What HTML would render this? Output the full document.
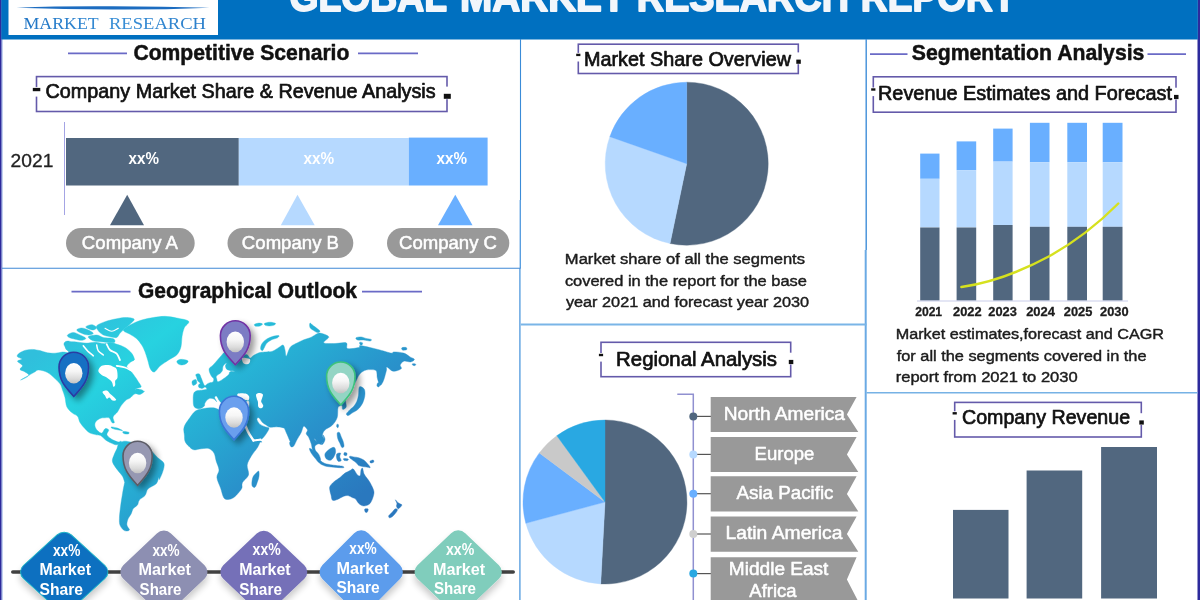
<!DOCTYPE html>
<html lang="en"><head><meta charset="utf-8"><title>Global Market Research Report</title>
<style>html,body{margin:0;padding:0;background:#fff;overflow:hidden}svg{display:block}text{white-space:pre}</style></head><body>
<svg width="1200" height="600" viewBox="0 0 1200 600" role="img" aria-label="Global Market Research Report infographic">
<defs>
<linearGradient id="mapg" gradientUnits="userSpaceOnUse" x1="186" y1="237" x2="378" y2="482">
<stop offset="0" stop-color="#30bfdc"/><stop offset="0.2" stop-color="#27d2e0"/><stop offset="0.38" stop-color="#26bcd9"/><stop offset="0.55" stop-color="#27a9d2"/><stop offset="0.73" stop-color="#2992cb"/><stop offset="1" stop-color="#2a78be"/></linearGradient>
<linearGradient id="logog" gradientUnits="userSpaceOnUse" x1="24" y1="0" x2="205" y2="0"><stop offset="0" stop-color="#1f74c4"/><stop offset="0.5" stop-color="#3a8fd6"/><stop offset="1" stop-color="#2b7fcb"/></linearGradient>
<linearGradient id="ball" x1="0" y1="0" x2="0" y2="1"><stop offset="0" stop-color="#ffffff"/><stop offset="0.4" stop-color="#f6f6f6"/><stop offset="0.75" stop-color="#dcdcdc"/><stop offset="1" stop-color="#c2c2c2"/></linearGradient>
<filter id="sh" x="-30%" y="-30%" width="180%" height="180%"><feGaussianBlur in="SourceAlpha" stdDeviation="3.2"/><feOffset dx="4" dy="4"/><feComponentTransfer><feFuncA type="linear" slope="0.4"/></feComponentTransfer><feMerge><feMergeNode/><feMergeNode in="SourceGraphic"/></feMerge></filter>
<filter id="dsh" x="-30%" y="-30%" width="160%" height="180%"><feGaussianBlur in="SourceAlpha" stdDeviation="3.5"/><feOffset dx="0" dy="5"/><feComponentTransfer><feFuncA type="linear" slope="0.22"/></feComponentTransfer><feMerge><feMergeNode/><feMergeNode in="SourceGraphic"/></feMerge></filter>
</defs>
<rect width="1200" height="600" fill="#fff"/>
<rect x="0" y="0" width="1.7" height="600" fill="#2d2a9c"/>
<rect x="1.7" y="39" width="1" height="561" fill="#a9bfea"/>
<rect x="1197.5" y="0" width="2.5" height="600" fill="#2d2a9c"/>
<rect x="1.3" y="0" width="1196.5" height="39.5" fill="#0070c0"/>
<rect x="8.5" y="0" width="209.5" height="35" fill="#fff"/>
<path d="M16.5,7.7 Q60,6.0 112,6.3 T209.5,7.7 Q160,9.8 112,9.5 T16.5,7.7Z" fill="#1c6cc0"/>
<text x="23.48" y="29.2" font-family='"Liberation Serif", serif' font-size="17.4" font-weight="400" fill="url(#logog)" text-anchor="start" textLength="75.23" lengthAdjust="spacingAndGlyphs">MARKET</text>
<text x="108.98" y="29.2" font-family='"Liberation Serif", serif' font-size="17.4" font-weight="400" fill="url(#logog)" text-anchor="start" textLength="97.04" lengthAdjust="spacingAndGlyphs">RESEARCH</text>
<text x="289.59" y="10.7" font-family='"Liberation Sans", Arial, sans-serif' font-size="40.5" font-weight="700" fill="#f2f6fb" text-anchor="start" textLength="157.32" lengthAdjust="spacingAndGlyphs" stroke="#f2f6fb" stroke-width="1.8" stroke-linejoin="round">GLOBAL</text>
<text x="459.99" y="10.7" font-family='"Liberation Sans", Arial, sans-serif' font-size="40.5" font-weight="700" fill="#f2f6fb" text-anchor="start" textLength="165.56" lengthAdjust="spacingAndGlyphs" stroke="#f2f6fb" stroke-width="1.8" stroke-linejoin="round">MARKET</text>
<text x="636.87" y="10.7" font-family='"Liberation Sans", Arial, sans-serif' font-size="40.5" font-weight="700" fill="#f2f6fb" text-anchor="start" textLength="212.07" lengthAdjust="spacingAndGlyphs" stroke="#f2f6fb" stroke-width="1.8" stroke-linejoin="round">RESEARCH</text>
<text x="860.87" y="10.7" font-family='"Liberation Sans", Arial, sans-serif' font-size="40.5" font-weight="700" fill="#f2f6fb" text-anchor="start" textLength="154.71" lengthAdjust="spacingAndGlyphs" stroke="#f2f6fb" stroke-width="1.8" stroke-linejoin="round">REPORT</text>
<g fill="none">
<line x1="520.5" y1="39" x2="520.5" y2="200" stroke="#3a8bd8" stroke-width="1.1"/>
<line x1="520.3" y1="200" x2="520.3" y2="268.3" stroke="#5a9fe0" stroke-width="1.4"/>
<line x1="519.9" y1="268.3" x2="519.9" y2="600" stroke="#5a9fe0" stroke-width="1.4"/>
<line x1="866.2" y1="39" x2="866.2" y2="250" stroke="#3f8ed9" stroke-width="1.4"/>
<line x1="865.7" y1="250" x2="865.7" y2="600" stroke="#6aaae4" stroke-width="2"/>
<line x1="2" y1="268.3" x2="520.7" y2="268.3" stroke="#3f88d6" stroke-width="1.1"/>
<line x1="520.7" y1="324.5" x2="866.5" y2="324.5" stroke="#7ab5e7" stroke-width="1.8"/>
<line x1="866.5" y1="392.7" x2="1197.5" y2="392.7" stroke="#76b2e5" stroke-width="1.6"/>
</g>
<g stroke="#6a6ac6" stroke-width="1.7">
<line x1="68" y1="53.3" x2="127" y2="53.3"/><line x1="358" y1="53.3" x2="418" y2="53.3"/>
<line x1="71.5" y1="291.7" x2="130.5" y2="291.7"/><line x1="362" y1="291.7" x2="422" y2="291.7"/>
<line x1="870" y1="54.2" x2="907.5" y2="54.2"/><line x1="1147.5" y1="54.2" x2="1186" y2="54.2"/>
</g>
<text x="133.40" y="60.2" font-family='"Liberation Sans", Arial, sans-serif' font-size="22.4" font-weight="700" fill="#111" text-anchor="start" textLength="216.01" lengthAdjust="spacingAndGlyphs" stroke="#111" stroke-width="0.5" stroke-linejoin="round">Competitive Scenario</text>
<rect x="36.5" y="76.6" width="410.5" height="34.9" fill="none" stroke="#645aaa" stroke-width="1.6"/>
<rect x="34.5" y="87.1" width="4" height="9.5" fill="#fff"/>
<rect x="445.0" y="86.6" width="4" height="12.6" fill="#fff"/>
<rect x="32.8" y="87.9" width="7.5" height="3.3" fill="#111"/>
<rect x="443.8" y="93.8" width="7" height="5" fill="#111"/>
<text x="45.60" y="98.3" font-family='"Liberation Sans", Arial, sans-serif' font-size="20.4" font-weight="400" fill="#111" text-anchor="start" textLength="390.00" lengthAdjust="spacingAndGlyphs" stroke="#111" stroke-width="0.7" stroke-linejoin="round">Company Market Share &amp; Revenue Analysis</text>
<line x1="64.5" y1="122" x2="64.5" y2="215" stroke="#a4a4e4" stroke-width="1"/>
<rect x="66" y="138" width="172.8" height="47.5" fill="#51677f"/>
<rect x="238.8" y="138" width="170" height="47.5" fill="#b6d9ff"/>
<rect x="408.8" y="137.6" width="78.8" height="47.9" fill="#69afff"/>
<text x="10.59" y="167.3" font-family='"Liberation Sans", Arial, sans-serif' font-size="18.8" font-weight="400" fill="#222" text-anchor="start" textLength="42.73" lengthAdjust="spacingAndGlyphs" stroke="#222" stroke-width="0.3" stroke-linejoin="round">2021</text>
<text x="128.57" y="164.2" font-family='"Liberation Sans", Arial, sans-serif' font-size="16" font-weight="700" fill="#fff" text-anchor="start" textLength="30.35" lengthAdjust="spacingAndGlyphs">xx%</text>
<text x="303.48" y="164.2" font-family='"Liberation Sans", Arial, sans-serif' font-size="16" font-weight="700" fill="#fff" text-anchor="start" textLength="30.64" lengthAdjust="spacingAndGlyphs">xx%</text>
<text x="436.47" y="164.2" font-family='"Liberation Sans", Arial, sans-serif' font-size="16" font-weight="700" fill="#fff" text-anchor="start" textLength="30.45" lengthAdjust="spacingAndGlyphs">xx%</text>
<path d="M127.2,194.8 L144,225.2 L110,225.2 Z" fill="#51677f"/>
<path d="M297.5,194.8 L314.7,225.2 L280.8,225.2 Z" fill="#b6d9ff"/>
<path d="M455.3,194.8 L472.5,225.2 L438,225.2 Z" fill="#69afff"/>
<rect x="66" y="228" width="128.7" height="30" rx="15" fill="#999999"/>
<text x="81.89" y="248.7" font-family='"Liberation Sans", Arial, sans-serif' font-size="17.8" font-weight="400" fill="#fff" text-anchor="start" textLength="96.11" lengthAdjust="spacingAndGlyphs" stroke="#fff" stroke-width="0.5" stroke-linejoin="round">Company A</text>
<rect x="227.5" y="228" width="125.8" height="30" rx="15" fill="#999999"/>
<text x="241.89" y="248.7" font-family='"Liberation Sans", Arial, sans-serif' font-size="17.8" font-weight="400" fill="#fff" text-anchor="start" textLength="97.13" lengthAdjust="spacingAndGlyphs" stroke="#fff" stroke-width="0.5" stroke-linejoin="round">Company B</text>
<rect x="387" y="228" width="122.3" height="30" rx="15" fill="#999999"/>
<text x="398.98" y="248.7" font-family='"Liberation Sans", Arial, sans-serif' font-size="17.8" font-weight="400" fill="#fff" text-anchor="start" textLength="98.04" lengthAdjust="spacingAndGlyphs" stroke="#fff" stroke-width="0.5" stroke-linejoin="round">Company C</text>
<text x="137.99" y="298.0" font-family='"Liberation Sans", Arial, sans-serif' font-size="22.4" font-weight="700" fill="#111" text-anchor="start" textLength="218.91" lengthAdjust="spacingAndGlyphs" stroke="#111" stroke-width="0.5" stroke-linejoin="round">Geographical Outlook</text>
<g id="map">
<g fill="url(#mapg)" stroke="url(#mapg)" stroke-width="0.4" stroke-linejoin="round">
<path d="M20.6,380.0C19.8,380.5 28.0,377.0 28.8,375.6C29.5,374.3 26.5,372.9 25.0,371.9C23.5,370.8 20.4,370.4 20.0,369.4C19.6,368.3 22.9,367.0 22.5,365.6C22.1,364.3 17.6,362.3 17.5,361.2C17.4,360.2 21.9,359.9 21.9,359.1C21.8,358.3 17.7,357.5 17.2,356.5C16.8,355.5 18.0,354.2 19.4,353.1C20.8,352.1 23.4,350.9 25.6,350.2C27.8,349.6 30.1,349.3 32.5,349.4C34.9,349.4 37.5,350.1 40.0,350.6C42.5,351.2 45.0,352.3 47.5,352.8C50.0,353.2 52.5,353.4 55.0,353.2C57.5,353.1 60.2,352.2 62.5,352.0C64.8,351.8 68.5,353.4 68.8,352.2C69.0,351.1 64.8,347.0 64.2,345.3C63.5,343.6 64.2,342.7 65.0,342.0C65.8,341.3 67.6,340.9 69.2,341.2C70.7,341.4 72.4,343.0 74.2,343.7C76.0,344.4 78.3,345.3 80.0,345.3C81.7,345.4 82.5,344.5 84.2,344.1C85.8,343.7 88.2,343.2 90.0,342.8C91.8,342.5 93.3,342.1 95.0,342.2C96.7,342.2 98.5,342.8 100.0,343.0C101.5,343.2 102.6,343.7 104.2,343.7C105.7,343.6 107.4,342.8 109.2,342.8C111.0,342.8 113.2,343.0 115.0,343.7C116.8,344.4 118.2,345.8 120.0,347.0C121.8,348.2 124.2,349.8 125.8,351.2C127.5,352.6 128.6,353.9 130.0,355.3C131.4,356.7 134.2,358.3 134.2,359.5C134.2,360.7 131.2,361.3 130.0,362.5C128.8,363.7 126.7,365.4 126.7,366.7C126.7,367.9 128.6,368.3 130.0,370.0C131.4,371.7 133.6,374.7 135.0,376.7C136.4,378.6 137.3,380.0 138.3,381.7C139.4,383.3 141.2,385.6 141.2,386.7C141.2,387.7 139.4,387.5 138.3,387.9C137.3,388.3 134.9,389.0 135.0,389.2C135.1,389.4 137.8,388.9 139.2,389.2C140.6,389.4 142.9,390.1 143.3,390.8C143.7,391.5 142.6,393.0 141.7,393.3C140.7,393.7 137.0,393.3 137.5,392.9C138.0,392.6 144.0,391.0 144.4,391.2C144.8,391.5 141.6,394.0 140.0,394.4C138.4,394.8 136.7,393.1 135.0,393.8C133.3,394.4 131.5,397.1 130.0,398.1C128.5,399.2 127.7,398.8 126.2,400.0C124.8,401.2 122.7,403.6 121.2,405.6C119.8,407.6 118.9,410.0 117.5,411.9C116.1,413.8 113.6,415.1 113.1,416.9C112.6,418.6 114.6,421.6 114.4,422.5C114.2,423.4 112.7,423.2 111.9,422.5C111.0,421.8 110.5,418.9 109.4,418.1C108.2,417.3 106.6,417.7 105.0,417.8C103.4,417.8 101.6,417.8 100.0,418.5C98.4,419.2 96.5,420.6 95.6,421.9C94.8,423.2 94.7,424.8 95.0,426.2C95.3,427.7 96.4,429.5 97.5,430.6C98.6,431.8 100.6,433.4 101.9,433.1C103.1,432.8 103.9,429.3 105.0,428.8C106.1,428.2 108.4,429.1 108.8,430.0C109.1,430.9 106.7,433.0 106.9,434.4C107.1,435.7 108.8,437.1 110.0,438.1C111.2,439.2 113.0,440.0 114.4,440.6C115.7,441.2 117.0,441.8 118.1,441.9C119.3,442.0 120.9,440.9 121.2,441.2C121.6,441.6 120.9,443.2 120.0,443.8C119.1,444.3 117.1,444.9 115.6,444.8C114.2,444.6 112.9,443.9 111.2,443.1C109.6,442.3 107.4,441.2 105.6,440.0C103.9,438.8 102.2,436.5 100.6,435.6C99.1,434.8 98.0,435.2 96.2,434.8C94.5,434.3 91.9,434.1 90.0,433.1C88.1,432.1 86.7,430.5 85.0,428.8C83.3,427.0 81.2,424.6 80.0,422.5C78.8,420.4 78.8,417.8 77.5,416.2C76.2,414.7 74.3,414.7 72.5,413.1C70.7,411.6 68.1,409.5 66.9,406.9C65.6,404.3 65.7,400.3 65.0,397.5C64.3,394.7 63.3,392.3 62.5,390.0C61.7,387.7 61.5,385.8 60.0,383.8C58.5,381.7 55.8,379.4 53.8,377.5C51.7,375.6 50.0,373.8 47.5,372.5C45.0,371.2 41.0,370.0 38.8,370.0C36.5,370.0 36.8,370.8 33.8,372.5C30.7,374.2 21.5,379.5 20.6,380.0Z"/>
<path d="M96.7,325.8C97.8,324.3 101.7,322.9 105.0,321.7C108.3,320.5 113.1,319.4 116.7,318.7C120.3,318.0 123.8,317.4 126.7,317.5C129.6,317.6 133.6,318.1 134.2,319.2C134.7,320.3 131.5,322.6 130.0,324.2C128.5,325.7 126.7,326.8 125.0,328.3C123.3,329.9 121.4,331.8 120.0,333.3C118.6,334.9 118.3,336.9 116.7,337.5C115.0,338.1 112.2,337.1 110.0,336.7C107.8,336.2 105.3,336.0 103.3,335.0C101.4,334.0 99.4,332.4 98.3,330.8C97.2,329.3 95.6,327.4 96.7,325.8Z"/>
<path d="M67.5,335.0C68.2,334.2 71.3,332.5 73.3,332.5C75.4,332.5 77.9,334.0 80.0,335.0C82.1,336.0 85.6,337.4 85.8,338.3C86.1,339.2 83.5,340.2 81.7,340.3C79.9,340.5 77.1,339.6 75.0,339.2C72.9,338.7 70.4,338.2 69.2,337.5C67.9,336.8 66.8,335.8 67.5,335.0Z"/>
<path d="M76.7,330.0C76.7,329.1 79.7,328.0 81.7,328.0C83.6,328.0 86.4,329.1 88.3,330.0C90.3,330.9 93.3,332.5 93.3,333.3C93.3,334.2 90.3,335.0 88.3,335.0C86.4,335.0 83.6,334.2 81.7,333.3C79.7,332.5 76.7,330.9 76.7,330.0Z"/>
<path d="M85.8,326.7C86.4,326.0 89.9,324.5 91.7,324.7C93.5,324.8 96.4,326.6 96.7,327.5C96.9,328.4 94.7,329.8 93.3,330.0C91.9,330.2 89.6,329.2 88.3,328.7C87.1,328.1 85.3,327.3 85.8,326.7Z"/>
<path d="M88.3,336.7C88.9,335.7 94.2,334.9 96.7,335.0C99.2,335.1 100.6,336.9 103.3,337.5C106.1,338.1 111.5,337.8 113.3,338.7C115.1,339.5 115.8,341.9 114.2,342.5C112.5,343.1 106.8,342.3 103.3,342.0C99.9,341.7 95.8,341.7 93.3,340.8C90.8,339.9 87.8,337.6 88.3,336.7Z"/>
<path d="M65.8,344.2C66.7,342.8 69.3,341.9 71.7,341.7C74.0,341.4 77.2,342.2 80.0,342.5C82.8,342.8 85.6,343.1 88.3,343.3C91.1,343.6 94.2,343.9 96.7,344.2C99.2,344.4 101.1,345.1 103.3,345.0C105.6,344.9 107.8,343.5 110.0,343.3C112.2,343.2 114.2,343.5 116.7,344.2C119.2,344.9 122.5,346.0 125.0,347.5C127.5,349.0 130.1,351.2 131.7,353.3C133.2,355.4 135.0,358.9 134.2,360.0C133.3,361.1 129.6,360.6 126.7,360.0C123.8,359.4 120.6,357.5 116.7,356.7C112.8,355.8 107.8,355.5 103.3,355.0C98.9,354.5 94.4,353.9 90.0,353.7C85.6,353.4 80.6,353.9 76.7,353.3C72.8,352.7 68.5,351.5 66.7,350.0C64.9,348.5 65.0,345.6 65.8,344.2Z"/>
<path d="M123.3,330.3C123.3,328.8 126.9,326.7 130.0,325.0C133.1,323.3 137.8,321.2 141.7,320.0C145.6,318.8 149.4,318.1 153.3,317.5C157.2,316.9 161.1,316.2 165.0,316.3C168.9,316.4 172.7,317.2 176.7,318.0C180.6,318.8 187.4,319.7 188.7,321.3C189.9,323.0 185.3,325.4 184.2,328.0C183.1,330.6 182.5,333.6 182.0,336.7C181.5,339.8 181.8,343.7 181.0,346.7C180.2,349.7 179.1,352.4 177.0,354.7C174.9,356.9 171.4,358.1 168.7,360.0C165.9,361.9 162.7,363.8 160.3,365.8C157.9,367.8 156.0,371.5 154.3,372.0C152.7,372.5 151.4,370.7 150.3,368.7C149.2,366.7 148.6,362.8 147.7,360.0C146.8,357.2 146.0,354.2 145.0,351.7C144.0,349.2 143.1,347.2 141.7,345.0C140.3,342.8 138.6,340.4 136.7,338.7C134.7,336.9 132.2,335.7 130.0,334.3C127.8,332.9 123.3,331.9 123.3,330.3Z"/>
<path d="M176.9,361.2C177.2,360.5 178.6,359.6 180.0,359.4C181.4,359.1 183.6,359.4 185.0,359.8C186.4,360.1 188.0,360.5 188.1,361.2C188.2,362.0 186.8,363.4 185.6,364.0C184.5,364.6 182.5,365.0 181.2,365.0C180.0,365.0 178.9,364.4 178.1,363.8C177.4,363.1 176.6,362.0 176.9,361.2Z"/>
<path d="M111.2,426.9C112.1,426.8 115.6,427.5 117.5,428.1C119.4,428.8 122.5,430.4 122.5,430.6C122.5,430.9 119.2,430.1 117.5,429.8C115.8,429.4 113.5,429.0 112.5,428.5C111.5,428.0 110.4,426.9 111.2,426.9Z"/>
<path d="M123.1,431.5C124.0,431.3 127.9,431.8 128.8,432.2C129.6,432.7 129.0,433.8 128.1,434.0C127.3,434.2 124.6,433.9 123.8,433.5C122.9,433.1 122.3,431.7 123.1,431.5Z"/>
<path d="M118.8,443.8C119.9,442.5 121.9,441.6 123.8,441.2C125.6,440.9 128.1,441.6 130.0,441.9C131.9,442.2 133.1,442.6 135.0,443.1C136.9,443.6 139.2,444.4 141.2,445.0C143.3,445.6 145.6,445.7 147.5,446.9C149.4,448.0 150.8,450.1 152.5,451.9C154.2,453.6 155.6,455.6 157.5,457.5C159.4,459.4 162.8,460.9 163.8,463.1C164.7,465.3 163.9,467.9 163.1,470.6C162.4,473.3 160.1,478.2 159.4,479.4C158.6,480.5 159.3,476.8 158.8,477.5C158.2,478.2 158.0,481.9 156.2,483.8C154.5,485.6 150.0,486.8 148.1,488.8C146.2,490.7 146.5,493.8 145.0,495.6C143.5,497.5 140.6,498.4 139.4,500.0C138.1,501.6 138.5,503.5 137.5,505.0C136.5,506.5 134.2,507.3 133.1,508.8C132.1,510.2 132.1,512.1 131.2,513.8C130.4,515.4 128.9,516.9 128.1,518.8C127.4,520.6 126.7,523.1 126.9,525.0C127.1,526.9 129.8,529.1 129.4,530.0C129.0,530.9 125.9,531.4 124.4,530.6C122.9,529.9 121.1,527.6 120.2,525.6C119.4,523.6 119.3,522.0 119.4,518.8C119.4,515.5 120.1,510.4 120.6,506.2C121.1,502.1 121.9,497.5 122.5,493.8C123.1,490.0 124.0,485.4 124.4,483.8C124.8,482.1 125.3,485.0 125.0,483.8C124.7,482.5 123.8,478.5 122.5,476.2C121.2,474.0 119.2,472.4 117.5,470.0C115.8,467.6 113.1,464.3 112.5,461.9C111.9,459.5 113.0,457.8 113.8,455.6C114.5,453.4 116.0,450.7 116.9,448.8C117.7,446.8 117.6,445.0 118.8,443.8Z"/>
<path d="M197.5,410.0C199.2,409.3 201.7,408.9 203.8,408.5C205.8,408.1 208.1,407.8 210.0,407.8C211.9,407.7 213.4,407.6 215.0,408.1C216.6,408.6 218.8,409.6 219.8,410.6C220.7,411.7 219.3,413.4 220.6,414.4C221.9,415.3 225.1,415.7 227.5,416.2C229.9,416.8 232.7,417.6 235.0,417.8C237.3,417.9 239.2,416.8 241.2,416.9C243.3,416.9 246.1,417.2 247.5,418.1C248.9,419.1 248.6,420.7 249.4,422.5C250.1,424.3 250.9,426.7 251.9,428.8C252.8,430.8 254.2,433.1 255.0,435.0C255.8,436.9 255.9,439.0 256.9,440.0C257.8,441.0 259.8,440.6 260.6,441.0C261.5,441.4 262.0,442.0 261.9,442.2C261.8,442.5 260.7,441.6 260.0,442.5C259.3,443.4 259.0,445.2 257.5,447.5C256.0,449.8 253.0,453.3 251.2,456.2C249.5,459.2 247.7,461.9 247.2,465.0C246.8,468.1 249.3,472.1 248.5,475.0C247.7,477.9 243.6,480.3 242.5,482.5C241.4,484.7 242.5,486.5 241.9,488.1C241.2,489.8 240.1,490.9 238.8,492.5C237.4,494.1 235.5,496.3 233.8,497.5C232.0,498.7 229.8,499.5 228.1,499.5C226.5,499.5 225.0,499.6 223.8,497.8C222.5,495.9 221.8,491.5 220.6,488.1C219.5,484.8 217.1,480.5 216.9,477.5C216.6,474.5 219.1,472.7 219.0,470.0C218.9,467.3 217.1,464.1 216.2,461.2C215.4,458.4 215.2,455.2 214.0,453.1C212.8,451.0 210.9,449.2 208.8,448.5C206.6,447.8 203.8,448.5 201.2,448.8C198.8,449.0 195.8,450.2 193.8,449.8C191.7,449.3 190.2,447.7 188.8,446.2C187.3,444.8 185.7,443.1 185.0,441.2C184.3,439.4 184.6,437.1 184.4,435.0C184.2,432.9 183.5,430.6 183.8,428.8C184.0,426.9 184.6,425.6 185.6,423.8C186.7,421.9 188.6,419.4 190.0,417.5C191.4,415.6 192.5,413.8 193.8,412.5C195.0,411.2 195.8,410.7 197.5,410.0Z"/>
<path d="M258.8,471.2C258.3,470.7 257.2,472.1 256.2,473.1C255.2,474.2 253.5,475.4 252.8,477.5C252.0,479.6 251.6,484.0 252.0,485.6C252.4,487.2 254.1,487.8 255.0,487.2C255.9,486.7 256.6,484.3 257.2,482.5C257.9,480.7 258.8,478.1 259.0,476.2C259.2,474.4 259.2,471.8 258.8,471.2Z"/>
<path d="M199.2,408.8C197.5,408.8 195.2,408.3 194.2,406.8C193.2,405.4 193.2,402.2 193.2,400.0C193.1,397.8 193.2,394.9 193.8,393.3C194.3,391.8 195.3,391.4 196.7,390.8C198.0,390.3 200.0,390.4 201.7,390.2C203.3,389.9 206.1,389.7 206.7,389.2C207.2,388.7 205.8,387.2 205.0,387.1C204.2,387.0 202.8,388.6 201.8,388.5C200.9,388.4 199.3,387.2 199.3,386.7C199.3,386.2 200.9,385.6 201.8,385.4C202.8,385.3 204.1,386.1 205.0,385.8C205.9,385.6 206.7,384.3 207.5,383.8C208.3,383.2 209.1,382.9 210.0,382.7C210.9,382.4 212.3,382.7 212.9,382.1C213.5,381.5 213.7,380.1 213.8,379.2C213.8,378.3 213.1,377.2 213.3,376.7C213.6,376.1 214.9,375.5 215.4,375.8C216.0,376.2 216.3,377.8 216.7,378.8C217.0,379.7 216.9,381.1 217.5,381.5C218.1,381.9 218.8,381.6 220.0,381.0C221.2,380.4 223.5,378.7 225.0,377.7C226.5,376.6 227.9,375.6 228.8,374.6C229.6,373.6 229.0,372.4 230.0,371.8C231.0,371.3 235.0,371.5 235.0,371.2C235.0,371.0 231.4,370.8 230.0,370.4C228.6,370.1 227.4,369.9 226.7,369.2C225.9,368.4 225.4,366.8 225.4,365.8C225.4,364.9 226.8,363.6 226.7,363.3C226.5,363.1 225.2,363.6 224.6,364.2C224.0,364.7 223.3,365.6 222.9,366.7C222.5,367.8 222.8,369.7 222.3,370.8C221.8,372.0 220.8,372.8 220.0,373.5C219.2,374.2 218.4,374.2 217.5,375.0C216.6,375.8 215.5,377.8 214.6,378.2C213.7,378.5 212.8,377.8 212.1,377.1C211.3,376.3 210.7,375.1 210.2,373.8C209.7,372.4 208.7,370.2 209.2,368.8C209.6,367.3 211.5,366.6 212.9,365.2C214.3,363.7 216.0,361.7 217.5,360.0C219.0,358.3 220.4,356.5 221.7,355.2C222.9,353.8 223.6,352.5 225.0,351.8C226.4,351.2 228.1,351.2 230.0,351.2C231.9,351.3 234.2,351.4 236.2,351.9C238.3,352.3 240.6,353.5 242.5,354.0C244.4,354.5 246.2,354.3 247.5,355.0C248.8,355.7 249.2,357.9 250.0,358.1C250.8,358.3 251.5,356.9 252.5,356.2C253.5,355.6 255.0,354.6 256.2,354.0C257.5,353.4 258.3,352.9 260.0,352.5C261.7,352.1 264.2,352.1 266.2,351.9C268.3,351.7 270.4,352.0 272.5,351.2C274.6,350.5 277.0,348.5 278.8,347.5C280.5,346.5 282.1,344.6 283.1,345.0C284.2,345.4 284.5,348.1 285.0,350.0C285.5,351.9 285.6,356.2 286.2,356.2C286.9,356.2 287.9,351.7 288.8,350.0C289.6,348.3 289.8,347.5 291.2,346.2C292.7,345.0 295.4,343.8 297.5,342.8C299.6,341.7 301.7,340.6 303.8,339.8C305.8,338.9 308.1,338.5 310.0,337.8C311.9,337.0 313.3,335.8 315.0,335.0C316.7,334.2 317.7,332.8 320.0,333.1C322.3,333.4 328.1,335.3 328.8,336.9C329.4,338.5 322.7,341.6 323.8,342.8C324.8,343.9 331.2,343.5 335.0,343.5C338.8,343.5 344.2,341.9 346.2,342.8C348.3,343.6 345.4,347.7 347.5,348.5C349.6,349.3 356.6,348.0 358.8,347.5C360.9,347.0 358.4,345.6 360.2,345.6C362.1,345.6 366.7,346.8 370.0,347.5C373.3,348.2 376.5,349.1 380.0,350.0C383.5,350.9 388.9,352.8 391.2,353.1C393.6,353.4 391.9,351.9 394.0,351.9C396.1,351.9 401.1,352.3 403.8,353.1C406.4,354.0 408.2,355.8 410.0,356.9C411.8,357.9 414.3,358.5 414.4,359.4C414.5,360.2 412.4,361.6 410.6,361.9C408.9,362.2 405.5,360.7 403.8,361.2C402.0,361.8 400.7,363.8 400.2,365.0C399.8,366.2 402.4,367.7 401.2,368.8C400.1,369.8 395.5,371.6 393.1,371.2C390.7,370.9 388.0,367.1 386.9,366.9C385.8,366.7 386.8,368.6 386.5,370.0C386.2,371.4 385.8,373.2 385.2,375.0C384.8,376.8 384.2,378.9 383.5,380.6C382.8,382.3 381.5,384.9 380.8,385.2C380.0,385.6 379.3,384.0 378.8,382.8C378.2,381.5 377.6,379.2 377.2,377.5C376.9,375.8 377.1,373.8 376.8,372.5C376.4,371.2 376.8,370.4 375.0,370.0C373.2,369.6 368.8,369.4 366.2,370.0C363.8,370.6 361.6,372.1 360.0,373.8C358.4,375.4 357.5,378.1 356.5,380.0C355.5,381.9 354.6,384.2 353.8,385.0C352.9,385.8 352.3,383.8 351.2,385.0C350.2,386.2 348.4,390.0 347.5,392.5C346.6,395.0 345.8,397.6 345.6,400.0C345.4,402.4 346.7,405.3 346.2,406.9C345.8,408.4 343.5,409.6 342.8,409.4C342.0,409.2 342.6,405.9 341.9,405.6C341.1,405.3 338.9,405.5 338.1,407.5C337.4,409.5 338.2,414.6 337.2,417.5C336.3,420.4 334.5,422.9 332.5,425.0C330.5,427.1 326.7,428.3 325.0,430.0C323.3,431.7 322.7,433.3 322.5,435.0C322.3,436.7 324.3,438.5 324.0,440.0C323.7,441.5 321.7,443.3 320.6,443.8C319.5,444.2 318.5,443.3 317.5,442.5C316.5,441.7 315.4,439.0 314.4,438.8C313.3,438.5 311.7,441.9 311.2,441.2C310.8,440.6 311.2,435.2 311.9,435.0C312.5,434.8 313.5,438.5 315.0,440.0C316.5,441.5 319.2,443.8 320.6,443.8C322.1,443.8 323.3,441.5 323.8,440.0C324.2,438.5 322.9,435.1 323.1,435.0C323.3,434.9 325.1,437.8 325.0,439.4C324.9,440.9 323.5,443.6 322.5,444.4C321.5,445.1 320.0,443.4 318.8,443.8C317.5,444.1 315.5,445.1 315.0,446.2C314.5,447.4 315.0,449.3 315.6,450.6C316.2,452.0 317.9,452.9 318.8,454.4C319.6,455.8 320.6,458.4 320.6,459.4C320.6,460.3 319.7,460.7 318.8,460.0C317.8,459.3 316.0,456.7 315.0,455.0C314.0,453.3 313.1,451.9 312.5,450.0C311.9,448.1 311.9,445.8 311.2,443.8C310.6,441.7 309.6,439.2 308.8,437.5C307.9,435.8 306.5,435.0 306.2,433.8C306.0,432.5 307.9,431.2 307.5,430.0C307.1,428.8 304.8,425.8 303.8,426.2C302.7,426.7 302.3,430.4 301.2,432.5C300.2,434.6 298.9,436.4 297.5,438.8C296.1,441.1 294.4,446.1 293.1,446.5C291.9,446.9 291.1,443.6 290.0,441.2C288.9,438.9 287.3,434.7 286.2,432.5C285.2,430.3 285.2,429.1 283.8,428.1C282.3,427.2 279.8,427.0 277.5,426.9C275.2,426.7 271.9,427.6 270.0,427.2C268.1,426.9 267.5,425.8 266.2,425.0C265.0,424.2 263.8,423.7 262.5,422.5C261.2,421.3 259.7,418.3 258.8,417.8C257.8,417.2 256.7,418.3 256.9,419.4C257.1,420.5 258.5,423.1 260.0,424.4C261.5,425.6 264.1,426.2 265.6,426.9C267.1,427.5 268.9,427.0 269.0,428.1C269.1,429.3 267.5,431.9 266.2,433.8C265.0,435.6 263.1,438.3 261.2,439.4C259.4,440.4 256.6,440.7 255.0,440.0C253.4,439.3 252.9,436.9 251.9,435.0C250.9,433.1 249.7,430.4 249.0,428.8C248.3,427.1 248.0,426.5 247.5,425.0C247.0,423.5 246.2,421.1 246.2,420.0C246.2,418.9 247.0,421.2 247.5,418.1C248.0,415.1 249.9,404.2 249.2,401.7C248.5,399.1 245.1,402.8 243.3,402.9C241.5,403.0 240.0,402.4 238.3,402.1C236.7,401.7 234.7,400.9 233.3,400.8C231.9,400.8 231.1,401.9 230.0,401.7C228.9,401.4 227.8,399.3 226.7,399.2C225.6,399.0 224.2,400.2 223.3,400.8C222.5,401.5 222.4,403.0 221.7,402.9C221.0,402.8 220.0,401.5 219.2,400.4C218.3,399.3 217.4,396.7 216.7,396.2C215.9,395.8 214.6,396.6 214.6,397.5C214.6,398.4 216.9,401.5 216.7,401.7C216.5,401.9 214.7,399.2 213.3,398.8C212.0,398.3 210.1,398.1 208.8,398.8C207.4,399.4 205.8,401.7 205.0,402.9C204.2,404.2 205.1,405.3 204.2,406.2C203.2,407.2 200.8,408.7 199.2,408.8Z"/>
<path d="M195.8,374.6C196.3,374.0 198.5,373.5 199.3,374.0C200.2,374.5 200.3,375.9 201.0,377.5C201.7,379.1 202.8,381.8 203.3,383.3C203.9,384.9 205.0,385.9 204.3,386.7C203.7,387.4 200.3,387.9 199.3,387.7C198.4,387.4 198.4,385.7 198.5,385.0C198.6,384.3 200.3,384.0 200.2,383.3C200.0,382.6 198.2,381.8 197.7,380.8C197.1,379.9 197.0,378.5 196.7,377.5C196.4,376.5 195.4,375.2 195.8,374.6Z"/>
<path d="M192.5,380.8C193.1,380.2 195.1,379.2 195.8,379.6C196.5,380.0 197.1,382.4 196.7,383.3C196.2,384.3 194.1,385.4 193.3,385.4C192.6,385.4 192.2,384.1 192.1,383.3C191.9,382.6 191.9,381.5 192.5,380.8Z"/>
<path d="M260.6,348.8C260.5,347.6 260.9,345.3 261.9,343.8C262.8,342.2 264.5,340.6 266.2,339.4C268.0,338.2 270.4,337.1 272.5,336.5C274.6,335.9 277.9,335.4 278.8,335.6C279.6,335.8 278.8,337.0 277.5,337.8C276.2,338.5 273.0,339.1 271.2,340.0C269.5,340.9 268.0,341.9 266.9,343.1C265.7,344.4 265.1,346.2 264.4,347.5C263.6,348.8 263.1,350.4 262.5,350.6C261.9,350.8 260.7,349.9 260.6,348.8Z"/>
<path d="M254.4,324.4C254.9,323.9 257.4,323.2 258.8,323.1C260.1,323.1 262.3,323.5 262.5,324.0C262.7,324.5 261.1,325.6 260.0,326.0C258.9,326.4 256.6,326.5 255.6,326.2C254.7,326.0 253.9,324.9 254.4,324.4Z"/>
<path d="M264.4,323.5C265.0,322.9 268.1,322.2 270.0,322.2C271.9,322.2 275.2,322.9 275.6,323.5C276.0,324.1 274.1,325.3 272.5,325.6C270.9,326.0 267.6,326.0 266.2,325.6C264.9,325.3 263.8,324.1 264.4,323.5Z"/>
<path d="M310.0,323.1C310.5,322.8 311.9,324.7 313.1,325.6C314.4,326.6 316.4,327.8 317.5,328.8C318.6,329.7 320.0,330.6 320.0,331.2C320.0,331.9 318.5,332.6 317.5,332.5C316.5,332.4 315.0,331.5 313.8,330.6C312.5,329.8 310.6,328.8 310.0,327.5C309.4,326.2 309.5,323.4 310.0,323.1Z"/>
<path d="M356.0,337.8C356.6,337.2 359.5,336.8 361.2,336.9C363.0,337.0 364.6,338.1 366.2,338.5C367.9,338.9 370.6,339.0 371.2,339.4C371.9,339.8 371.2,340.9 370.0,341.0C368.8,341.1 365.8,340.2 363.8,340.0C361.7,339.8 358.8,340.4 357.5,340.0C356.2,339.6 355.4,338.3 356.0,337.8Z"/>
<path d="M359.8,342.2C360.2,342.0 362.1,342.3 362.5,342.8C362.9,343.2 362.3,344.7 361.9,345.0C361.5,345.3 360.4,344.8 360.0,344.4C359.6,343.9 359.3,342.5 359.8,342.2Z"/>
<path d="M401.9,347.8C402.5,347.3 405.5,347.2 406.2,347.5C407.0,347.8 407.1,349.3 406.5,349.8C405.9,350.2 403.3,350.3 402.5,350.0C401.7,349.7 401.2,348.2 401.9,347.8Z"/>
<path d="M412.5,363.8C413.0,363.5 415.2,363.7 415.6,364.0C416.0,364.3 415.5,365.4 415.0,365.6C414.5,365.8 413.2,365.6 412.8,365.2C412.3,364.9 412.0,364.0 412.5,363.8Z"/>
<path d="M378.1,382.5C378.6,382.4 379.9,384.3 380.0,385.0C380.1,385.7 379.0,386.8 378.5,386.9C378.0,387.0 376.9,386.4 376.9,385.6C376.8,384.9 377.6,382.6 378.1,382.5Z"/>
<path d="M359.4,386.9C360.3,385.8 363.1,387.6 364.0,388.8C364.9,389.9 365.0,392.0 365.0,393.8C365.0,395.5 364.6,397.4 364.0,399.4C363.4,401.4 362.4,403.9 361.2,405.6C360.1,407.4 358.7,408.8 357.2,410.0C355.8,411.2 354.0,411.8 352.5,412.8C351.0,413.7 349.1,415.5 348.1,415.6C347.1,415.8 346.1,414.5 346.5,413.5C346.9,412.5 349.0,410.6 350.2,409.4C351.5,408.1 352.9,407.4 354.0,406.0C355.1,404.6 356.1,403.1 356.9,401.2C357.6,399.4 358.1,397.4 358.5,395.0C358.9,392.6 358.5,387.9 359.4,386.9Z"/>
<path d="M336.9,424.4C337.2,424.0 338.3,424.2 338.5,424.8C338.7,425.3 338.4,427.1 338.1,427.5C337.8,427.9 337.0,427.4 336.8,426.9C336.5,426.4 336.6,424.7 336.9,424.4Z"/>
<path d="M337.2,433.1C337.5,432.1 338.8,432.0 339.4,432.5C340.0,433.0 340.4,434.8 341.0,436.2C341.6,437.7 342.6,439.6 343.1,441.2C343.6,442.9 344.2,445.2 344.0,446.2C343.8,447.3 342.6,448.0 341.9,447.5C341.2,447.0 340.4,444.6 339.8,443.1C339.1,441.7 338.2,440.4 337.8,438.8C337.3,437.1 337.0,434.2 337.2,433.1Z"/>
<path d="M290.0,441.9C290.5,441.7 292.0,442.4 292.5,443.1C293.0,443.9 293.3,445.6 293.1,446.2C292.9,446.9 291.8,447.2 291.2,446.9C290.7,446.6 290.0,445.2 289.8,444.4C289.5,443.5 289.5,442.1 290.0,441.9Z"/>
<path d="M309.4,448.5C309.6,448.0 311.4,448.9 312.5,450.0C313.6,451.1 314.9,453.2 316.2,455.0C317.6,456.8 319.2,459.2 320.6,460.6C322.1,462.0 323.0,462.8 325.0,463.5C327.0,464.2 329.6,464.5 332.5,465.0C335.4,465.5 340.7,465.8 342.5,466.2C344.3,466.7 344.6,467.6 343.1,467.8C341.7,467.9 336.8,467.5 333.8,467.2C330.7,467.0 327.4,466.7 325.0,466.0C322.6,465.3 321.0,464.4 319.4,463.1C317.7,461.8 316.4,459.8 315.0,458.1C313.6,456.5 312.2,454.7 311.2,453.1C310.3,451.5 309.2,449.0 309.4,448.5Z"/>
<path d="M325.0,453.8C325.6,452.1 328.4,449.8 330.0,448.8C331.6,447.7 333.4,447.0 334.4,447.5C335.3,448.0 335.7,450.3 335.6,451.9C335.5,453.4 334.6,455.5 333.8,456.9C332.9,458.3 331.9,459.9 330.6,460.2C329.4,460.6 327.2,459.8 326.2,458.8C325.3,457.7 324.4,455.4 325.0,453.8Z"/>
<path d="M336.9,453.8C337.6,453.0 340.1,452.6 340.6,453.1C341.1,453.6 339.6,455.6 339.8,456.9C339.9,458.1 341.5,459.9 341.2,460.6C341.0,461.4 338.9,461.8 338.1,461.2C337.3,460.7 336.7,458.8 336.5,457.5C336.3,456.2 336.2,454.5 336.9,453.8Z"/>
<path d="M344.4,452.5C344.9,452.2 346.5,452.6 346.9,453.1C347.2,453.6 347.0,455.3 346.5,455.6C346.0,455.9 344.4,455.5 344.0,455.0C343.6,454.5 343.9,452.8 344.4,452.5Z"/>
<path d="M343.8,458.5C344.4,458.3 347.5,458.6 348.1,459.0C348.8,459.4 348.2,460.4 347.5,460.6C346.8,460.8 344.6,460.6 344.0,460.2C343.4,459.9 343.1,458.7 343.8,458.5Z"/>
<path d="M349.8,456.2C350.4,456.0 352.2,456.6 353.8,456.9C355.2,457.1 357.1,457.2 358.8,457.8C360.4,458.3 362.3,459.0 363.8,460.0C365.2,461.0 366.4,462.5 367.5,463.8C368.6,465.0 370.2,466.9 370.2,467.5C370.2,468.1 368.8,467.4 367.5,467.2C366.2,467.1 364.0,466.8 362.5,466.5C361.0,466.2 359.8,466.2 358.8,465.6C357.7,465.0 357.3,463.7 356.2,462.8C355.2,461.8 353.5,460.8 352.5,460.0C351.5,459.2 350.5,458.8 350.0,458.1C349.5,457.5 349.1,456.5 349.8,456.2Z"/>
<path d="M370.0,461.2C370.4,460.7 372.5,459.9 373.1,460.0C373.8,460.1 374.1,461.4 373.8,461.9C373.4,462.4 371.6,463.2 371.0,463.1C370.4,463.0 369.6,461.8 370.0,461.2Z"/>
<path d="M330.0,486.2C330.7,484.9 332.1,483.3 333.8,481.9C335.4,480.4 338.1,479.0 340.0,477.5C341.9,476.0 343.3,474.3 345.0,473.1C346.7,472.0 348.7,471.4 350.0,470.6C351.3,469.9 351.9,468.6 352.8,468.8C353.6,468.9 354.2,470.2 355.0,471.2C355.8,472.3 356.6,474.3 357.5,475.0C358.4,475.7 359.7,476.5 360.2,475.6C360.8,474.8 360.6,471.2 361.0,470.0C361.4,468.8 362.0,467.5 362.5,468.1C363.0,468.8 363.3,472.1 364.0,473.8C364.7,475.4 365.9,476.7 366.9,478.1C367.9,479.6 369.0,480.7 370.0,482.5C371.0,484.3 372.5,487.0 373.1,488.8C373.8,490.5 374.1,491.5 374.0,493.1C373.9,494.8 373.2,497.0 372.5,498.8C371.8,500.5 371.0,502.4 370.0,503.5C369.0,504.6 367.6,505.3 366.2,505.6C364.9,506.0 363.2,506.1 361.9,505.6C360.5,505.1 359.2,503.9 358.1,502.8C357.1,501.6 356.5,499.8 355.6,499.0C354.7,498.2 354.0,498.3 352.8,497.8C351.5,497.2 349.6,495.9 348.1,495.6C346.6,495.4 345.5,495.6 343.8,496.2C342.0,496.9 339.4,498.7 337.5,499.4C335.6,500.0 333.6,501.0 332.5,500.2C331.4,499.5 331.5,496.7 331.0,495.0C330.5,493.3 329.9,491.5 329.8,490.0C329.6,488.5 329.3,487.6 330.0,486.2Z"/>
<path d="M364.8,509.0C365.2,508.5 367.7,508.5 368.1,509.0C368.5,509.5 367.7,511.8 367.2,512.2C366.8,512.7 365.7,512.4 365.2,511.9C364.8,511.3 364.3,509.5 364.8,509.0Z"/>
<path d="M395.4,499.8C395.4,499.5 396.5,501.2 397.2,501.9C398.0,502.5 399.2,503.2 400.0,503.8C400.8,504.3 401.9,504.4 401.9,505.0C401.9,505.6 400.6,506.9 400.0,507.5C399.4,508.1 398.7,509.0 398.1,508.8C397.5,508.5 396.7,507.1 396.5,506.2C396.3,505.4 397.1,504.6 396.9,503.5C396.7,502.4 395.3,500.0 395.4,499.8Z"/>
<path d="M395.0,509.0C395.9,508.5 397.4,509.1 397.5,509.8C397.6,510.4 396.5,512.0 395.6,513.1C394.8,514.2 393.5,515.7 392.5,516.5C391.5,517.3 390.0,517.9 389.4,517.8C388.8,517.6 388.3,516.5 388.8,515.6C389.2,514.8 390.8,513.6 391.9,512.5C392.9,511.4 394.1,509.5 395.0,509.0Z"/>
</g>
<g fill="#fff">
<path d="M98.3,370.8C98.3,369.3 100.0,366.8 101.7,365.8C103.3,364.9 106.4,364.9 108.3,365.0C110.3,365.1 111.9,366.0 113.3,366.7C114.7,367.4 116.0,367.4 116.7,369.2C117.4,371.0 117.8,375.6 117.5,377.5C117.2,379.4 115.6,379.6 115.2,380.8C114.8,382.1 115.5,384.0 115.2,385.0C114.9,386.0 113.9,387.2 113.3,386.7C112.8,386.1 112.8,383.2 111.7,381.7C110.6,380.1 108.3,378.6 106.7,377.5C105.0,376.4 103.1,376.1 101.7,375.0C100.3,373.9 98.3,372.4 98.3,370.8Z"/>
<path d="M102.5,391.9C102.8,391.0 105.6,390.3 106.9,390.6C108.1,390.9 108.9,392.7 110.0,393.8C111.1,394.8 112.7,395.8 113.8,396.9C114.8,397.9 116.5,399.4 116.2,400.0C116.0,400.6 113.6,401.0 112.5,400.6C111.4,400.2 110.3,397.8 109.4,397.5C108.4,397.2 107.6,399.1 106.9,398.8C106.1,398.4 105.7,396.8 105.0,395.6C104.3,394.5 102.2,392.7 102.5,391.9Z"/>
<path d="M237.5,394.0C238.1,393.4 240.1,393.3 241.7,393.3C243.2,393.3 245.4,393.4 246.7,394.0C247.9,394.6 248.9,395.6 249.2,396.7C249.4,397.7 249.2,399.9 248.3,400.4C247.5,400.9 245.4,400.1 244.2,399.6C242.9,399.1 241.9,398.0 240.8,397.5C239.8,397.0 238.5,397.2 237.9,396.7C237.4,396.1 236.9,394.6 237.5,394.0Z"/>
<path d="M256.2,394.2C256.8,393.3 258.9,392.8 260.0,392.9C261.1,393.0 262.6,393.7 262.9,394.6C263.3,395.5 262.4,397.2 262.1,398.3C261.8,399.5 261.0,400.4 261.2,401.7C261.5,402.9 263.3,404.7 263.3,405.8C263.3,406.9 262.1,408.2 261.2,408.3C260.4,408.5 258.9,407.8 258.3,406.7C257.8,405.6 258.2,403.1 257.9,401.7C257.6,400.3 256.9,399.6 256.7,398.3C256.4,397.1 255.7,395.1 256.2,394.2Z"/>
<path d="M242.1,358.3C242.6,357.6 244.5,357.8 245.8,357.9C247.2,358.1 249.4,358.3 250.0,359.2C250.6,360.1 249.9,362.5 249.2,363.3C248.5,364.2 246.9,364.3 245.8,364.2C244.8,364.0 243.5,363.5 242.9,362.5C242.3,361.5 241.6,359.1 242.1,358.3Z"/>
</g>
<g fill="none" stroke="#fff" stroke-linecap="round" stroke-linejoin="round">
<path d="M105.0,328.3C106.1,328.8 109.4,331.3 111.7,331.3C113.9,331.3 117.2,328.8 118.3,328.3" stroke-width="1.1"/>
<path d="M83.3,345.8C84.2,346.8 86.7,350.0 88.3,351.7C90.0,353.3 92.5,355.1 93.3,355.8" stroke-width="1.6"/>
<path d="M96.7,345.0C96.9,346.0 97.2,349.2 98.3,350.8C99.4,352.5 102.5,354.3 103.3,355.0" stroke-width="1.5"/>
<path d="M106.7,344.2C107.2,345.1 108.3,348.4 110.0,350.0C111.7,351.6 115.0,352.0 116.7,353.7C118.3,355.3 119.4,358.9 120.0,360.0" stroke-width="1.8"/>
<path d="M116.7,365.8C118.1,366.1 122.5,366.7 125.0,367.5C127.5,368.3 130.6,370.3 131.7,370.8" stroke-width="1.8"/>
<path d="M245.8,426.5C246.1,427.4 247.3,430.2 248.1,431.9C248.9,433.5 249.7,434.8 250.6,436.2C251.5,437.7 253.0,439.8 253.5,440.5" stroke-width="2.4"/>
<path d="M253.5,440.5C254.1,440.4 255.7,440.2 256.9,440.0C258.1,439.8 260.0,439.6 260.6,439.5" stroke-width="2.0"/>
</g>
</g><g filter="url(#sh)"><path d="M73.80,396.60 C67.58,389.05 59.00,382.54 59.00,367.00 A14.80,14.80 0 0 1 88.60,367.00 C88.60,382.54 80.02,389.05 73.80,396.60Z" fill="#186fc3" stroke="#2c3aa2" stroke-width="1.6" stroke-linejoin="round"/></g><ellipse cx="73.8" cy="373.3" rx="8.7" ry="10.3" fill="url(#ball)"/><g filter="url(#sh)"><path d="M235.30,364.80 C229.04,357.30 220.40,351.24 220.40,335.60 A14.90,14.90 0 0 1 250.20,335.60 C250.20,351.24 241.56,357.30 235.30,364.80Z" fill="#7c7cc4" stroke="#7233a4" stroke-width="1.6" stroke-linejoin="round"/></g><ellipse cx="235.3" cy="341.9" rx="8.7" ry="10.3" fill="url(#ball)"/><g filter="url(#sh)"><path d="M340.80,405.00 C334.84,397.69 326.60,391.11 326.60,376.20 A14.20,14.20 0 0 1 355.00,376.20 C355.00,391.11 346.76,397.69 340.80,405.00Z" fill="#93d5c4" stroke="#3cc27c" stroke-width="1.6" stroke-linejoin="round"/></g><ellipse cx="340.8" cy="383.0" rx="8.7" ry="10.3" fill="url(#ball)"/><g filter="url(#sh)"><path d="M234.00,439.80 C227.87,432.41 219.40,426.23 219.40,410.90 A14.60,14.60 0 0 1 248.60,410.90 C248.60,426.23 240.13,432.41 234.00,439.80Z" fill="#6a9fee" stroke="#3a74d6" stroke-width="1.6" stroke-linejoin="round"/></g><ellipse cx="234.0" cy="417.5" rx="8.7" ry="10.3" fill="url(#ball)"/><g filter="url(#sh)"><path d="M137.60,485.60 C131.47,478.07 123.00,471.23 123.00,455.90 A14.60,14.60 0 0 1 152.20,455.90 C152.20,471.23 143.73,478.07 137.60,485.60Z" fill="#9698b2" stroke="#5c5c66" stroke-width="1.6" stroke-linejoin="round"/></g><ellipse cx="137.6" cy="463.0" rx="8.7" ry="10.3" fill="url(#ball)"/>
<rect x="11" y="570.2" width="504" height="3.6" rx="1.8" fill="#414141"/>
<g filter="url(#dsh)"><rect x="-33.80" y="-33.80" width="67.60" height="67.60" rx="10" fill="#0a70c0" stroke="#1fb3c6" stroke-width="1" transform="translate(64.2,572.0) scale(1,0.912) rotate(45)"/></g>
<g filter="url(#dsh)"><rect x="-33.73" y="-33.73" width="67.46" height="67.46" rx="10" fill="#8d8fb2" transform="translate(163.9,572.0) scale(1,0.950) rotate(45)"/></g>
<g filter="url(#dsh)"><rect x="-33.66" y="-33.66" width="67.32" height="67.32" rx="10" fill="#7470b8" transform="translate(263.8,572.0) scale(1,0.952) rotate(45)"/></g>
<g filter="url(#dsh)"><rect x="-32.39" y="-32.39" width="64.77" height="64.77" rx="10" fill="#5b9cec" transform="translate(361.2,572.0) scale(1,1.002) rotate(45)"/></g>
<g filter="url(#dsh)"><rect x="-33.80" y="-33.80" width="67.60" height="67.60" rx="10" fill="#80cdbc" transform="translate(458.2,572.0) scale(1,0.954) rotate(45)"/></g>
<text x="53.00" y="555.7" font-family='"Liberation Sans", Arial, sans-serif' font-size="15.8" font-weight="700" fill="#fff" text-anchor="start" textLength="27.42" lengthAdjust="spacingAndGlyphs">xx%</text>
<text x="39.45" y="575.4" font-family='"Liberation Sans", Arial, sans-serif' font-size="16.3" font-weight="700" fill="#fff" text-anchor="start" textLength="51.55" lengthAdjust="spacingAndGlyphs">Market</text>
<text x="39.46" y="595.0" font-family='"Liberation Sans", Arial, sans-serif' font-size="16.3" font-weight="700" fill="#fff" text-anchor="start" textLength="43.59" lengthAdjust="spacingAndGlyphs">Share</text>
<text x="152.44" y="555.7" font-family='"Liberation Sans", Arial, sans-serif' font-size="15.8" font-weight="700" fill="#fff" text-anchor="start" textLength="27.11" lengthAdjust="spacingAndGlyphs">xx%</text>
<text x="138.56" y="575.4" font-family='"Liberation Sans", Arial, sans-serif' font-size="16.3" font-weight="700" fill="#fff" text-anchor="start" textLength="52.38" lengthAdjust="spacingAndGlyphs">Market</text>
<text x="139.58" y="595.0" font-family='"Liberation Sans", Arial, sans-serif' font-size="16.3" font-weight="700" fill="#fff" text-anchor="start" textLength="41.94" lengthAdjust="spacingAndGlyphs">Share</text>
<text x="252.58" y="555.4" font-family='"Liberation Sans", Arial, sans-serif' font-size="15.8" font-weight="700" fill="#fff" text-anchor="start" textLength="28.08" lengthAdjust="spacingAndGlyphs">xx%</text>
<text x="239.28" y="575.1" font-family='"Liberation Sans", Arial, sans-serif' font-size="16.3" font-weight="700" fill="#fff" text-anchor="start" textLength="51.35" lengthAdjust="spacingAndGlyphs">Market</text>
<text x="239.26" y="594.7" font-family='"Liberation Sans", Arial, sans-serif' font-size="16.3" font-weight="700" fill="#fff" text-anchor="start" textLength="42.68" lengthAdjust="spacingAndGlyphs">Share</text>
<text x="349.30" y="554.1" font-family='"Liberation Sans", Arial, sans-serif' font-size="15.8" font-weight="700" fill="#fff" text-anchor="start" textLength="27.32" lengthAdjust="spacingAndGlyphs">xx%</text>
<text x="336.45" y="573.8" font-family='"Liberation Sans", Arial, sans-serif' font-size="16.3" font-weight="700" fill="#fff" text-anchor="start" textLength="52.36" lengthAdjust="spacingAndGlyphs">Market</text>
<text x="336.47" y="593.4" font-family='"Liberation Sans", Arial, sans-serif' font-size="16.3" font-weight="700" fill="#fff" text-anchor="start" textLength="43.17" lengthAdjust="spacingAndGlyphs">Share</text>
<text x="446.00" y="554.9" font-family='"Liberation Sans", Arial, sans-serif' font-size="15.8" font-weight="700" fill="#fff" text-anchor="start" textLength="28.24" lengthAdjust="spacingAndGlyphs">xx%</text>
<text x="433.07" y="574.6" font-family='"Liberation Sans", Arial, sans-serif' font-size="16.3" font-weight="700" fill="#fff" text-anchor="start" textLength="52.16" lengthAdjust="spacingAndGlyphs">Market</text>
<text x="434.06" y="594.2" font-family='"Liberation Sans", Arial, sans-serif' font-size="16.3" font-weight="700" fill="#fff" text-anchor="start" textLength="41.97" lengthAdjust="spacingAndGlyphs">Share</text>
<rect x="578.3" y="44.2" width="220.0" height="29.3" fill="none" stroke="#645aaa" stroke-width="1.6"/>
<rect x="576.3" y="52.9" width="4" height="8.6" fill="#fff"/>
<rect x="796.3" y="52.4" width="4" height="11.8" fill="#fff"/>
<rect x="576.2" y="53.7" width="4.2" height="2.4" fill="#111"/>
<rect x="796.3" y="59.6" width="4.5" height="4.2" fill="#111"/>
<text x="584.00" y="65.7" font-family='"Liberation Sans", Arial, sans-serif' font-size="20.4" font-weight="400" fill="#111" text-anchor="start" textLength="207.00" lengthAdjust="spacingAndGlyphs" stroke="#111" stroke-width="0.7" stroke-linejoin="round">Market Share Overview</text>
<path d="M686.7,163.7 L686.70,82.20 A81.5,81.5 0 1 1 670.03,243.48 Z" fill="#51677f" stroke="#51677f" stroke-width="0.4"/>
<path d="M686.7,163.7 L670.03,243.48 A81.5,81.5 0 0 1 609.83,136.63 Z" fill="#b6d9ff" stroke="#b6d9ff" stroke-width="0.4"/>
<path d="M686.7,163.7 L609.83,136.63 A81.5,81.5 0 0 1 686.70,82.20 Z" fill="#69afff" stroke="#69afff" stroke-width="0.4"/>
<text x="564.89" y="264.3" font-family='"Liberation Sans", Arial, sans-serif' font-size="14.7" font-weight="400" fill="#1c1c1c" text-anchor="start" textLength="240.11" lengthAdjust="spacingAndGlyphs" stroke="#1c1c1c" stroke-width="0.42" stroke-linejoin="round">Market share of all the segments</text>
<text x="564.90" y="285.8" font-family='"Liberation Sans", Arial, sans-serif' font-size="14.7" font-weight="400" fill="#1c1c1c" text-anchor="start" textLength="242.01" lengthAdjust="spacingAndGlyphs" stroke="#1c1c1c" stroke-width="0.42" stroke-linejoin="round">covered in the report for the base</text>
<text x="565.90" y="307.3" font-family='"Liberation Sans", Arial, sans-serif' font-size="14.7" font-weight="400" fill="#1c1c1c" text-anchor="start" textLength="243.20" lengthAdjust="spacingAndGlyphs" stroke="#1c1c1c" stroke-width="0.42" stroke-linejoin="round">year 2021 and forecast year 2030</text>
<rect x="601.0" y="342.3" width="189.7" height="34.4" fill="none" stroke="#645aaa" stroke-width="1.6"/>
<rect x="599.0" y="353.0" width="4" height="8.6" fill="#fff"/>
<rect x="788.7" y="352.7" width="4" height="11.8" fill="#fff"/>
<rect x="598.9" y="353.8" width="4.2" height="2.4" fill="#111"/>
<rect x="788.8" y="359.9" width="4.5" height="4.2" fill="#111"/>
<text x="616.09" y="365.7" font-family='"Liberation Sans", Arial, sans-serif' font-size="20.4" font-weight="400" fill="#111" text-anchor="start" textLength="160.92" lengthAdjust="spacingAndGlyphs" stroke="#111" stroke-width="0.7" stroke-linejoin="round">Regional Analysis</text>
<path d="M605.0,502.0 L605.00,420.00 A82,82 0 1 1 600.71,583.89 Z" fill="#51677f" stroke="#51677f" stroke-width="0.4"/>
<path d="M605.0,502.0 L600.71,583.89 A82,82 0 0 1 525.79,523.22 Z" fill="#b6d9ff" stroke="#b6d9ff" stroke-width="0.4"/>
<path d="M605.0,502.0 L525.79,523.22 A82,82 0 0 1 539.34,452.88 Z" fill="#69afff" stroke="#69afff" stroke-width="0.4"/>
<path d="M605.0,502.0 L539.34,452.88 A82,82 0 0 1 556.80,435.66 Z" fill="#c9c9c9" stroke="#c9c9c9" stroke-width="0.4"/>
<path d="M605.0,502.0 L556.80,435.66 A82,82 0 0 1 605.00,420.00 Z" fill="#29a8e2" stroke="#29a8e2" stroke-width="0.4"/>
<path d="M677.3,394.3 H693.3 V600" fill="none" stroke="#9090d0" stroke-width="1.5"/>
<line x1="693" y1="416.4" x2="711" y2="416.4" stroke="#555" stroke-width="1.2"/>
<circle cx="693.3" cy="416.4" r="4" fill="#51677f"/>
<path d="M710.7,396.9 H856.6 L846.9,414.5 L858.3,432.1 H710.7 Z" fill="#999999"/>
<line x1="693" y1="454.4" x2="711" y2="454.4" stroke="#555" stroke-width="1.2"/>
<circle cx="693.3" cy="454.4" r="4" fill="#b6d9ff"/>
<path d="M710.7,436.9 H856.6 L846.9,454.5 L858.3,472.1 H710.7 Z" fill="#999999"/>
<line x1="693" y1="493.7" x2="711" y2="493.7" stroke="#555" stroke-width="1.2"/>
<circle cx="693.3" cy="493.7" r="4" fill="#69afff"/>
<path d="M710.7,476.3 H856.6 L846.9,493.9 L858.3,511.5 H710.7 Z" fill="#999999"/>
<line x1="693" y1="534.0" x2="711" y2="534.0" stroke="#555" stroke-width="1.2"/>
<circle cx="693.3" cy="534.0" r="4" fill="#cfcfcf"/>
<path d="M710.7,516.5 H856.6 L846.9,534.1 L858.3,551.7 H710.7 Z" fill="#999999"/>
<line x1="693" y1="573.6" x2="711" y2="573.6" stroke="#555" stroke-width="1.2"/>
<circle cx="693.3" cy="573.6" r="4" fill="#29a8e2"/>
<path d="M710.7,557.3 H856.6 L846.9,579.6 L858.5,601.9 H710.7 Z" fill="#999999"/>
<text x="723.78" y="420.2" font-family='"Liberation Sans", Arial, sans-serif' font-size="18.3" font-weight="400" fill="#fff" text-anchor="start" textLength="121.22" lengthAdjust="spacingAndGlyphs" stroke="#fff" stroke-width="0.5" stroke-linejoin="round">North America</text>
<text x="754.56" y="459.6" font-family='"Liberation Sans", Arial, sans-serif' font-size="18.3" font-weight="400" fill="#fff" text-anchor="start" textLength="59.77" lengthAdjust="spacingAndGlyphs" stroke="#fff" stroke-width="0.5" stroke-linejoin="round">Europe</text>
<text x="736.50" y="499.2" font-family='"Liberation Sans", Arial, sans-serif' font-size="18.3" font-weight="400" fill="#fff" text-anchor="start" textLength="97.00" lengthAdjust="spacingAndGlyphs" stroke="#fff" stroke-width="0.5" stroke-linejoin="round">Asia Pacific</text>
<text x="725.49" y="539.3" font-family='"Liberation Sans", Arial, sans-serif' font-size="18.3" font-weight="400" fill="#fff" text-anchor="start" textLength="117.01" lengthAdjust="spacingAndGlyphs" stroke="#fff" stroke-width="0.5" stroke-linejoin="round">Latin America</text>
<text x="728.87" y="574.8" font-family='"Liberation Sans", Arial, sans-serif' font-size="18.3" font-weight="400" fill="#fff" text-anchor="start" textLength="99.53" lengthAdjust="spacingAndGlyphs" stroke="#fff" stroke-width="0.55" stroke-linejoin="round">Middle East</text>
<text x="749.39" y="597.4" font-family='"Liberation Sans", Arial, sans-serif' font-size="18.3" font-weight="400" fill="#fff" text-anchor="start" textLength="47.04" lengthAdjust="spacingAndGlyphs" stroke="#fff" stroke-width="0.55" stroke-linejoin="round">Africa</text>
<text x="911.80" y="59.8" font-family='"Liberation Sans", Arial, sans-serif' font-size="22.4" font-weight="700" fill="#111" text-anchor="start" textLength="232.60" lengthAdjust="spacingAndGlyphs" stroke="#111" stroke-width="0.5" stroke-linejoin="round">Segmentation Analysis</text>
<rect x="873.3" y="76.8" width="302.7" height="35.4" fill="none" stroke="#645aaa" stroke-width="1.6"/>
<rect x="871.3" y="87.5" width="4" height="8.6" fill="#fff"/>
<rect x="1174.0" y="87.7" width="4" height="11.8" fill="#fff"/>
<rect x="871.2" y="88.3" width="4.2" height="2.4" fill="#111"/>
<rect x="1174.0" y="94.9" width="4.5" height="4.2" fill="#111"/>
<text x="878.00" y="100.3" font-family='"Liberation Sans", Arial, sans-serif' font-size="20.4" font-weight="400" fill="#111" text-anchor="start" textLength="293.91" lengthAdjust="spacingAndGlyphs" stroke="#111" stroke-width="0.7" stroke-linejoin="round">Revenue Estimates and Forecast</text>
<rect x="920.2" y="153.6" width="19.3" height="25.2" fill="#69afff"/>
<rect x="920.2" y="178.8" width="19.3" height="48.7" fill="#b6d9ff"/>
<rect x="920.2" y="227.5" width="19.3" height="73.1" fill="#51677f"/>
<rect x="956.6" y="141.4" width="19.6" height="28.8" fill="#69afff"/>
<rect x="956.6" y="170.2" width="19.6" height="57.3" fill="#b6d9ff"/>
<rect x="956.6" y="227.5" width="19.6" height="73.1" fill="#51677f"/>
<rect x="993.2" y="128.6" width="19.4" height="33.0" fill="#69afff"/>
<rect x="993.2" y="161.6" width="19.4" height="63.4" fill="#b6d9ff"/>
<rect x="993.2" y="225" width="19.4" height="75.6" fill="#51677f"/>
<rect x="1029.9" y="122.8" width="19.6" height="39.4" fill="#69afff"/>
<rect x="1029.9" y="162.2" width="19.6" height="64.6" fill="#b6d9ff"/>
<rect x="1029.9" y="226.8" width="19.6" height="73.8" fill="#51677f"/>
<rect x="1067.3" y="122.8" width="19.7" height="39.4" fill="#69afff"/>
<rect x="1067.3" y="162.2" width="19.7" height="64.6" fill="#b6d9ff"/>
<rect x="1067.3" y="226.8" width="19.7" height="73.8" fill="#51677f"/>
<rect x="1102.7" y="122.8" width="19.8" height="39.4" fill="#69afff"/>
<rect x="1102.7" y="162.2" width="19.8" height="64.6" fill="#b6d9ff"/>
<rect x="1102.7" y="226.8" width="19.8" height="73.8" fill="#51677f"/>
<line x1="917" y1="301" x2="1128" y2="301" stroke="#c9cdea" stroke-width="1"/>
<path d="M961.4,287 C990,283 1020,272 1049.7,256 C1080,239 1100,222 1118.3,203.5" fill="none" stroke="#d6e11e" stroke-width="2.4" stroke-linecap="round"/>
<text x="915.18" y="316.0" font-family='"Liberation Sans", Arial, sans-serif' font-size="13.2" font-weight="700" fill="#1c1c1c" text-anchor="start" textLength="26.93" lengthAdjust="spacingAndGlyphs" stroke="#1c1c1c" stroke-width="0.3" stroke-linejoin="round">2021</text>
<text x="953.06" y="316.0" font-family='"Liberation Sans", Arial, sans-serif' font-size="13.2" font-weight="700" fill="#1c1c1c" text-anchor="start" textLength="28.59" lengthAdjust="spacingAndGlyphs" stroke="#1c1c1c" stroke-width="0.3" stroke-linejoin="round">2022</text>
<text x="988.29" y="316.0" font-family='"Liberation Sans", Arial, sans-serif' font-size="13.2" font-weight="700" fill="#1c1c1c" text-anchor="start" textLength="28.55" lengthAdjust="spacingAndGlyphs" stroke="#1c1c1c" stroke-width="0.3" stroke-linejoin="round">2023</text>
<text x="1026.17" y="316.0" font-family='"Liberation Sans", Arial, sans-serif' font-size="13.2" font-weight="700" fill="#1c1c1c" text-anchor="start" textLength="28.83" lengthAdjust="spacingAndGlyphs" stroke="#1c1c1c" stroke-width="0.3" stroke-linejoin="round">2024</text>
<text x="1063.78" y="316.0" font-family='"Liberation Sans", Arial, sans-serif' font-size="13.2" font-weight="700" fill="#1c1c1c" text-anchor="start" textLength="28.55" lengthAdjust="spacingAndGlyphs" stroke="#1c1c1c" stroke-width="0.3" stroke-linejoin="round">2025</text>
<text x="1100.00" y="316.0" font-family='"Liberation Sans", Arial, sans-serif' font-size="13.2" font-weight="700" fill="#1c1c1c" text-anchor="start" textLength="28.53" lengthAdjust="spacingAndGlyphs" stroke="#1c1c1c" stroke-width="0.3" stroke-linejoin="round">2030</text>
<text x="895.69" y="339.3" font-family='"Liberation Sans", Arial, sans-serif' font-size="14.7" font-weight="400" fill="#1c1c1c" text-anchor="start" textLength="268.31" lengthAdjust="spacingAndGlyphs" stroke="#1c1c1c" stroke-width="0.42" stroke-linejoin="round">Market estimates,forecast and CAGR</text>
<text x="896.70" y="360.5" font-family='"Liberation Sans", Arial, sans-serif' font-size="14.7" font-weight="400" fill="#1c1c1c" text-anchor="start" textLength="249.80" lengthAdjust="spacingAndGlyphs" stroke="#1c1c1c" stroke-width="0.42" stroke-linejoin="round">for all the segments covered in the</text>
<text x="895.70" y="381.7" font-family='"Liberation Sans", Arial, sans-serif' font-size="14.7" font-weight="400" fill="#1c1c1c" text-anchor="start" textLength="182.01" lengthAdjust="spacingAndGlyphs" stroke="#1c1c1c" stroke-width="0.42" stroke-linejoin="round">report from 2021 to 2030</text>
<rect x="954.7" y="402.4" width="186.6" height="34.6" fill="none" stroke="#645aaa" stroke-width="1.6"/>
<rect x="952.7" y="411.3" width="4" height="8.6" fill="#fff"/>
<rect x="1139.3" y="413.2" width="4" height="11.8" fill="#fff"/>
<rect x="952.6" y="412.1" width="4.2" height="2.4" fill="#111"/>
<rect x="1139.3" y="420.4" width="4.5" height="4.2" fill="#111"/>
<text x="961.99" y="423.8" font-family='"Liberation Sans", Arial, sans-serif' font-size="20.4" font-weight="400" fill="#111" text-anchor="start" textLength="168.12" lengthAdjust="spacingAndGlyphs" stroke="#111" stroke-width="0.7" stroke-linejoin="round">Company Revenue</text>
<rect x="953" y="509.9" width="55.5" height="88.6" fill="#51677f"/>
<rect x="1026.6" y="470.5" width="55.6" height="128.0" fill="#51677f"/>
<rect x="1101.1" y="447" width="55.9" height="151.5" fill="#51677f"/>
</svg></body></html>
